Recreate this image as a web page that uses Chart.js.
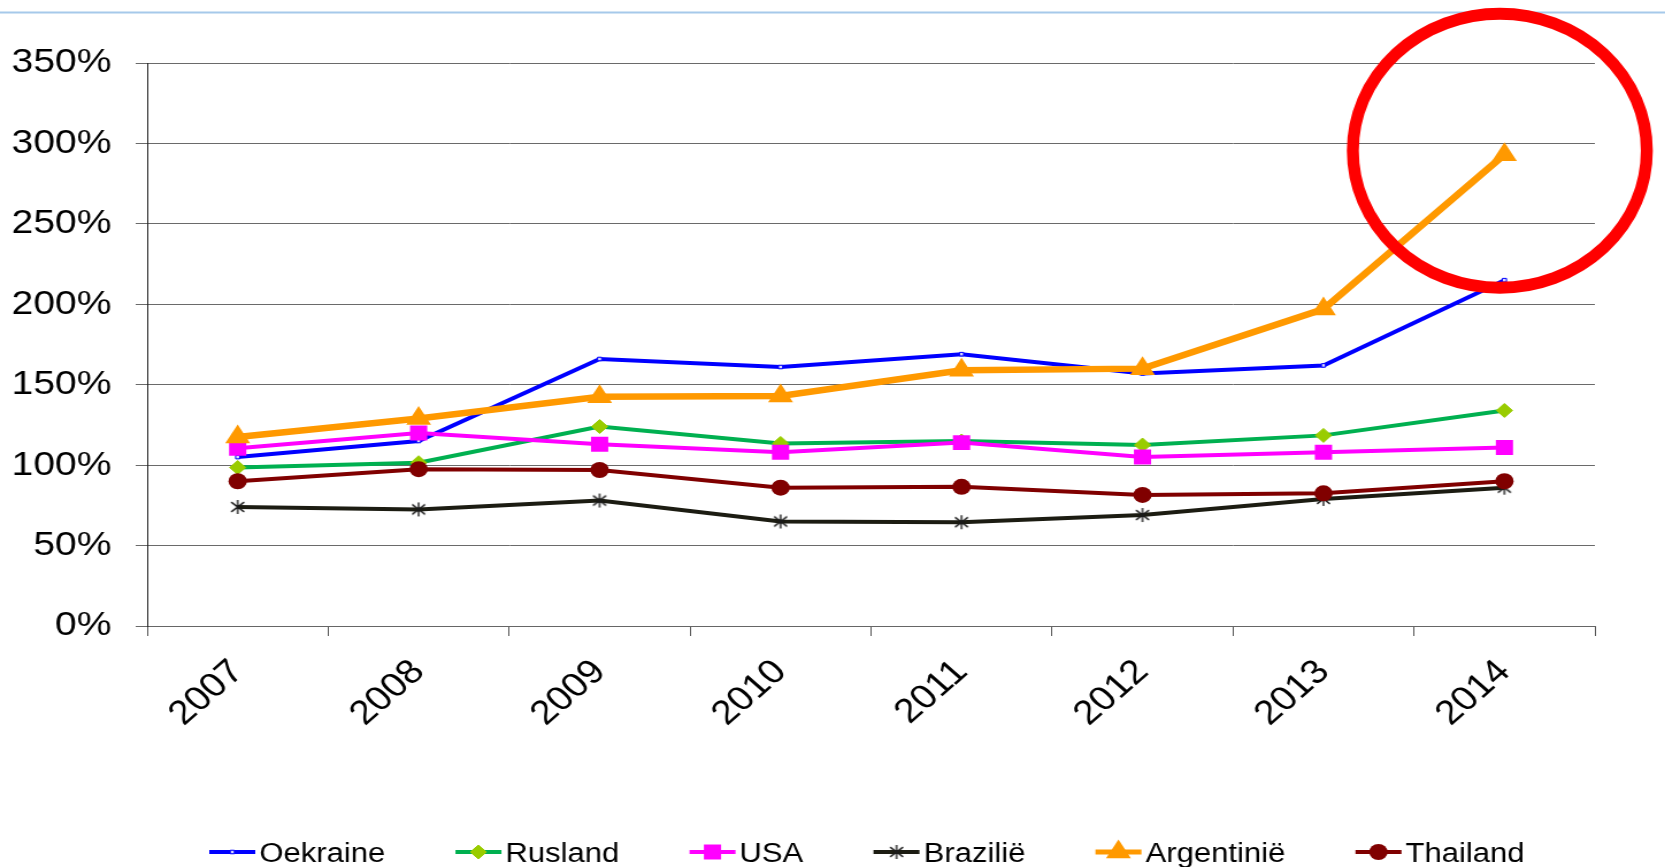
<!DOCTYPE html>
<html>
<head>
<meta charset="utf-8">
<script src="https://cdn.jsdelivr.net/npm/chart.js@4.4.1/dist/chart.umd.min.js"></script>
<style>
  html, body { margin: 0; padding: 0; background: #ffffff; overflow: hidden; }
  #wrap { position: absolute; left: 0; top: 0; width: 1448px; height: 867px; transform-origin: 0 0; transform: scaleX(1.1499); }
  canvas { display: block; }
</style>
</head>
<body>
<div id="wrap"><canvas id="c" width="1448" height="867"></canvas></div>
<script>
// ---- data ----
const years = ['2007', '2008', '2009', '2010', '2011', '2012', '2013', '2014'];
const seriesNames = ['Oekraine', 'Rusland', 'USA', 'Brazilië', 'Argentinië', 'Thailand'];
const oekraine   = [105, 115, 166, 161, 169, 157, 162, 215];
const rusland    = [98.5, 101.5, 124, 113.5, 115, 112.5, 118.5, 134];
const usa        = [110.5, 120, 113, 108, 114, 105, 108, 111];
const brazilie   = [74, 72.5, 78, 65, 64.5, 69, 79, 86];
const argentinie = [117.5, 129, 142.5, 143, 159, 160, 197, 293];
const thailand   = [90, 97.5, 97, 86, 86.5, 81.5, 82.5, 90];
const yTickValues = [0, 50, 100, 150, 200, 250, 300, 350];
const yTickLabels = ['0%', '50%', '100%', '150%', '200%', '250%', '300%', '350%'];
const highlightCategory = '2014';
const highlightValue = 295.5;

const S = 1.1499; // horizontal stretch of the page

function makeStar() {
  const c = document.createElement('canvas');
  c.width = 16; c.height = 16;
  const g = c.getContext('2d');
  g.strokeStyle = '#1a1a1a';
  g.lineWidth = 1.4;
  const m = 8, r = 7;
  g.beginPath();
  g.moveTo(m, m - r); g.lineTo(m, m + r);
  g.moveTo(m - r * 0.8, m - r * 0.7); g.lineTo(m + r * 0.8, m + r * 0.7);
  g.moveTo(m + r * 0.8, m - r * 0.7); g.lineTo(m - r * 0.8, m + r * 0.7);
  g.stroke();
  return c;
}
const starImg = makeStar();

const FONT = '"Liberation Sans", Arial, Helvetica, sans-serif';

const datasets = [
  { label: seriesNames[0], data: oekraine, borderColor: '#0000ff', borderWidth: 4,
    pointStyle: 'rect', pointRadius: 2.5, pointBackgroundColor: '#d8d8ff', pointBorderColor: '#0000ff', pointBorderWidth: 1, order: 6 },
  { label: seriesNames[1], data: rusland, borderColor: '#00b050', borderWidth: 4,
    pointStyle: 'rectRot', pointRadius: 7, pointBackgroundColor: '#99cc00', pointBorderColor: '#99cc00', pointBorderWidth: 1, order: 5 },
  { label: seriesNames[2], data: usa, borderColor: '#ff00ff', borderWidth: 4,
    pointStyle: 'rect', pointRadius: 10.6, pointBackgroundColor: '#ff00ff', pointBorderColor: '#ff00ff', pointBorderWidth: 0, order: 4 },
  { label: seriesNames[3], data: brazilie, borderColor: '#1c1c12', borderWidth: 4,
    pointStyle: starImg, pointRadius: 8, pointBackgroundColor: '#1a1a1a', pointBorderColor: '#1a1a1a', pointBorderWidth: 0, order: 3 },
  { label: seriesNames[4], data: argentinie, borderColor: '#ff9900', borderWidth: 6.5,
    pointStyle: 'triangle', pointRadius: 12.5, pointBackgroundColor: '#ff9900', pointBorderColor: '#ff9900', pointBorderWidth: 0, order: 2 },
  { label: seriesNames[5], data: thailand, borderColor: '#800000', borderWidth: 4,
    pointStyle: 'circle', pointRadius: 8, pointBackgroundColor: '#800000', pointBorderColor: '#800000', pointBorderWidth: 0, order: 1 }
];
datasets.forEach(d => { d.tension = 0; d.fill = false; d.pointHoverRadius = d.pointRadius; d.backgroundColor = d.borderColor; });

function drawMarker(ctx, ds, x, y) {
  const style = ds.pointStyle, r = ds.pointRadius;
  if (style instanceof HTMLCanvasElement) {
    ctx.drawImage(style, x - style.width / 2, y - style.height / 2);
    return;
  }
  ctx.beginPath();
  if (style === 'circle') {
    ctx.arc(x, y, r, 0, Math.PI * 2);
  } else if (style === 'rect') {
    const s = Math.SQRT1_2 * r;
    ctx.rect(x - s, y - s, 2 * s, 2 * s);
  } else if (style === 'rectRot') {
    ctx.moveTo(x, y - r); ctx.lineTo(x + r, y); ctx.lineTo(x, y + r); ctx.lineTo(x - r, y); ctx.closePath();
  } else if (style === 'triangle') {
    const a = 2 * Math.PI / 3;
    ctx.moveTo(x, y - r);
    ctx.lineTo(x + r * Math.sin(a), y - r * Math.cos(a));
    ctx.lineTo(x - r * Math.sin(a), y - r * Math.cos(a));
    ctx.closePath();
  }
  ctx.fillStyle = ds.pointBackgroundColor;
  ctx.fill();
  if (ds.pointBorderWidth) {
    ctx.lineWidth = ds.pointBorderWidth;
    ctx.strokeStyle = ds.pointBorderColor;
    ctx.stroke();
  }
}

const decor = {
  id: 'decor',
  beforeDraw(chart) {
    const ctx = chart.ctx;
    ctx.save();
    ctx.strokeStyle = '#a6c9ea';
    ctx.lineWidth = 2;
    ctx.beginPath();
    ctx.moveTo(0, 12.5);
    ctx.lineTo(chart.width, 12.5);
    ctx.stroke();
    ctx.restore();
  },
  afterDraw(chart) {
    const ctx = chart.ctx;
    const xs = chart.scales.x, ys = chart.scales.y;
    // highlight ellipse around the last Argentinië point
    const cx = xs.getPixelForValue(years.indexOf(highlightCategory)) - 4;
    const cy = ys.getPixelForValue(highlightValue);
    ctx.save();
    ctx.translate(cx, cy);
    ctx.scale(1 / S, 1);
    ctx.beginPath();
    ctx.ellipse(0, 0, 147, 137, 0, 0, Math.PI * 2);
    ctx.strokeStyle = '#ff0000';
    ctx.lineWidth = 12;
    ctx.stroke();
    ctx.restore();

    // legend
    ctx.save();
    ctx.font = '27px ' + FONT;
    ctx.textBaseline = 'alphabetic';
    ctx.textAlign = 'left';
    let x = 182;
    const y = 852;
    chart.data.datasets.forEach(ds => {
      ctx.beginPath();
      ctx.moveTo(x, y);
      ctx.lineTo(x + 40, y);
      ctx.strokeStyle = ds.borderColor;
      ctx.lineWidth = Math.min(ds.borderWidth, 5);
      ctx.stroke();
      drawMarker(ctx, ds, x + 20, y);
      ctx.fillStyle = '#000000';
      ctx.fillText(ds.label, x + 43.5, y + 10);
      x += 43.5 + ctx.measureText(ds.label).width + 61;
    });
    ctx.restore();
  }
};

new Chart(document.getElementById('c'), {
  type: 'line',
  data: { labels: years, datasets: datasets },
  plugins: [decor],
  options: {
    responsive: false,
    animation: false,
    devicePixelRatio: 1,
    layout: { padding: { top: 63, right: 61, left: 0, bottom: 0 } },
    plugins: { legend: { display: false }, tooltip: { enabled: false } },
    scales: {
      x: {
        type: 'category',
        offset: true,
        grid: { display: true, drawOnChartArea: false, drawTicks: true, tickLength: 10, color: '#555555', offset: true },
        border: { display: true, color: '#666666', width: 1 },
        ticks: { autoSkip: false, minRotation: 45, maxRotation: 45, padding: 16, color: '#000000', font: { family: FONT, size: 34 } },
        afterFit(scale) { scale.height = 241; }
      },
      y: {
        min: 0, max: 350,
        afterBuildTicks(scale) { scale.ticks = yTickValues.map(v => ({ value: v })); },
        grid: { color: '#6a6a6a', lineWidth: 1, drawTicks: true, tickLength: 10 },
        border: { display: true, color: '#222222', width: 1 },
        ticks: { padding: 21, color: '#000000', font: { family: FONT, size: 34 },
                 callback: (v) => yTickLabels[yTickValues.indexOf(v)] },
        afterFit(scale) { scale.width = 128; }
      }
    }
  }
});
</script>
</body>
</html>
